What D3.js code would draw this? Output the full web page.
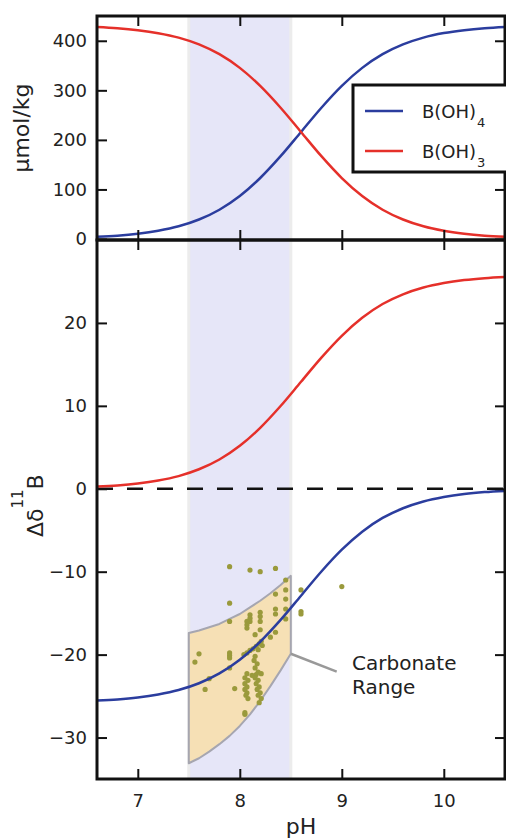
<!DOCTYPE html>
<html>
<head>
<meta charset="utf-8">
<script src="https://cdn.jsdelivr.net/npm/d3@7"></script>
<style>
  body { margin: 0; background: #fff; }
  svg { display: block; font-family: "DejaVu Sans", sans-serif; }
</style>
</head>
<body>
<svg id="chart" width="506" height="840"></svg>
<script>
// pH grid for the speciation curves
const pH = [6.6, 6.8, 7.0, 7.2, 7.4, 7.6, 7.8, 8.0, 8.2, 8.4, 8.6, 8.8, 9.0, 9.2, 9.4, 9.6, 9.8, 10.0, 10.2, 10.4, 10.6];
// umol/kg
const borate = [4.3, 6.7, 10.6, 16.6, 25.6, 39.3, 59.1, 86.7, 123.1, 167.1, 216.0, 264.9, 309.0, 345.3, 373.0, 392.7, 406.4, 415.5, 421.4, 425.3, 427.7];
const boricAcid = [427.7, 425.3, 421.4, 415.4, 406.4, 392.7, 372.9, 345.3, 308.9, 264.9, 216.0, 167.1, 123.0, 86.7, 59.0, 39.3, 25.6, 16.5, 10.6, 6.7, 4.3];
// delta 11B of each species
const d11Boric = [0.26, 0.40, 0.63, 0.99, 1.53, 2.35, 3.53, 5.18, 7.35, 9.98, 12.9, 15.82, 18.45, 20.62, 22.28, 23.45, 24.27, 24.81, 25.17, 25.40, 25.54];
const d11Borate = [-25.54, -25.40, -25.17, -24.81, -24.27, -23.45, -22.27, -20.62, -18.45, -15.82, -12.9, -9.98, -7.35, -5.18, -3.52, -2.35, -1.53, -0.99, -0.63, -0.40, -0.26];

// shaded pH band
const bandPH = [7.5, 8.5];

// carbonate range envelope
const carbPH = [7.5, 7.6, 7.7, 7.8, 7.9, 8.0, 8.1, 8.2, 8.3, 8.4, 8.5];
const carbUpper = [-17.4, -17.1, -16.7, -16.3, -15.7, -15.1, -14.3, -13.5, -12.6, -11.6, -10.5];
const carbLower = [-33.1, -32.5, -31.7, -30.8, -29.8, -28.6, -27.2, -25.6, -23.8, -21.9, -19.9];

// carbonate samples [pH, delta 11B]
const samples = [
  [7.90, -9.4], [8.10, -9.8], [8.20, -10.0], [8.35, -9.6], [8.45, -11.0], [9.00, -11.8],
  [8.60, -12.2], [8.35, -12.7], [8.45, -12.2], [8.45, -13.3], [7.90, -13.8], [8.35, -14.5],
  [8.45, -14.5], [8.35, -15.1], [8.45, -15.7], [8.60, -14.8], [8.60, -15.1], [8.10, -15.2],
  [8.10, -15.6], [8.10, -16.0], [8.20, -14.9], [8.20, -15.4], [8.20, -16.0], [8.07, -16.0],
  [8.07, -16.4], [8.07, -16.8], [7.90, -16.0], [8.20, -17.0], [8.35, -17.3], [8.30, -17.9],
  [8.15, -17.6], [8.21, -18.4], [8.19, -18.7], [8.22, -18.9], [8.16, -19.0], [8.13, -19.3],
  [8.10, -19.5], [8.07, -19.8], [8.04, -20.0], [8.18, -19.4], [8.15, -20.2], [8.14, -20.7],
  [8.17, -21.1], [8.15, -21.6], [7.90, -19.8], [7.90, -20.1], [7.90, -20.4], [7.90, -21.6],
  [7.60, -19.9], [7.56, -20.9], [7.70, -22.9], [7.66, -24.2], [7.95, -24.1], [8.07, -22.3],
  [8.05, -22.8], [8.08, -23.1], [8.05, -23.5], [8.07, -23.9], [8.05, -24.2], [8.07, -24.6],
  [8.06, -24.9], [8.08, -25.3], [8.05, -27.0], [8.05, -27.2], [8.18, -22.1], [8.16, -22.4],
  [8.21, -22.3], [8.15, -22.8], [8.18, -23.1], [8.16, -23.5], [8.19, -23.9], [8.17, -24.2],
  [8.20, -24.6], [8.18, -24.9], [8.21, -25.3], [8.19, -25.8], [8.12, -22.5]
];

const xTicks = [7, 8, 9, 10];
const topTicks = [0, 100, 200, 300, 400];
const botTicks = [-30, -20, -10, 0, 10, 20];
const annoPoint = [8.5, -19.9];
const annoEnd = [8.95, -22.05];

const svg = d3.select("#chart");
const left = 97, right = 505, top0 = 16, mid = 240, bottom = 779;
const blue = "#2b3d9e", red = "#e5302a";

const x = d3.scaleLinear().domain([6.6, 10.6]).range([left, right]);
const yTop = d3.scaleLinear().domain([0, 450]).range([239, top0]);
const yBot = d3.scaleLinear().domain([-35, 30]).range([bottom, mid]);

const defs = svg.append("defs");
defs.append("clipPath").attr("id", "clipTop").append("rect")
  .attr("x", left).attr("y", top0).attr("width", right - left).attr("height", mid - top0);
defs.append("clipPath").attr("id", "clipBot").append("rect")
  .attr("x", left).attr("y", mid).attr("width", right - left).attr("height", bottom - mid);

function band(g, y0, y1) {
  g.append("rect")
    .attr("x", x(bandPH[0])).attr("y", y0)
    .attr("width", x(bandPH[1]) - x(bandPH[0])).attr("height", y1 - y0)
    .style("fill", "#e6e6f8");
  bandPH.forEach(p => {
    g.append("line")
      .attr("x1", x(p)).attr("x2", x(p)).attr("y1", y0).attr("y2", y1)
      .style("stroke", "#ececec").style("stroke-width", 3);
  });
}

// top panel
const gTop = svg.append("g").attr("clip-path", "url(#clipTop)");
band(gTop, top0, mid);

const topLine = d3.line()
  .x((d, i) => x(pH[i]))
  .y(d => yTop(d))
  .curve(d3.curveMonotoneX);

gTop.append("path").datum(borate).attr("d", topLine)
  .style("fill", "none").style("stroke", blue).style("stroke-width", 2.5);
gTop.append("path").datum(boricAcid).attr("d", topLine)
  .style("fill", "none").style("stroke", red).style("stroke-width", 2.5);

// bottom panel
const gBot = svg.append("g").attr("clip-path", "url(#clipBot)");
band(gBot, mid, bottom);

const envelope = carbPH.map((p, i) => [p, carbUpper[i]])
  .concat(carbPH.map((p, i) => [p, carbLower[i]]).reverse());
gBot.append("path")
  .attr("d", d3.line().x(d => x(d[0])).y(d => yBot(d[1])).curve(d3.curveLinearClosed)(envelope))
  .style("fill", "#f6e0b5")
  .style("stroke", "#a6a6b0")
  .style("stroke-width", 2)
  .style("stroke-linejoin", "round");

gBot.selectAll("circle.sample")
  .data(samples)
  .enter()
  .append("circle")
  .attr("class", "sample")
  .attr("cx", d => x(d[0]))
  .attr("cy", d => yBot(d[1]))
  .attr("r", 2.6)
  .style("fill", "#9a9a3c");

gBot.append("line")
  .attr("x1", left).attr("x2", right)
  .attr("y1", yBot(0)).attr("y2", yBot(0))
  .style("stroke", "#111").style("stroke-width", 2.5)
  .style("stroke-dasharray", "16,14");

const botLine = d3.line()
  .x((d, i) => x(pH[i]))
  .y(d => yBot(d))
  .curve(d3.curveMonotoneX);

gBot.append("path").datum(d11Boric).attr("d", botLine)
  .style("fill", "none").style("stroke", red).style("stroke-width", 2.5);
gBot.append("path").datum(d11Borate).attr("d", botLine)
  .style("fill", "none").style("stroke", blue).style("stroke-width", 2.5);

// annotation
svg.append("line")
  .attr("x1", x(annoPoint[0])).attr("y1", yBot(annoPoint[1]))
  .attr("x2", x(annoEnd[0])).attr("y2", yBot(annoEnd[1]))
  .style("stroke", "#999").style("stroke-width", 2.5);
const anno = svg.append("text")
  .attr("x", 352).attr("y", 670)
  .style("font-size", "20px").style("fill", "#222");
anno.append("tspan").attr("x", 352).text("Carbonate");
anno.append("tspan").attr("x", 352).attr("dy", 24).text("Range");

// axes
function styleAxis(g) {
  g.select(".domain").remove();
  g.selectAll(".tick line").style("stroke", "#111").style("stroke-width", 2);
  g.selectAll(".tick text").style("font-size", "18px").style("fill", "#222")
    .style("font-family", "DejaVu Sans, sans-serif");
}

function axes(yScale, yTicks, y0, y1, xLabels) {
  svg.append("g").attr("transform", "translate(" + left + ",0)")
    .call(d3.axisLeft(yScale).tickValues(yTicks).tickSizeInner(-10).tickSizeOuter(0).tickPadding(10))
    .call(styleAxis);
  svg.append("g").attr("transform", "translate(" + right + ",0)")
    .call(d3.axisRight(yScale).tickValues(yTicks).tickSizeInner(-10).tickSizeOuter(0).tickFormat(""))
    .call(styleAxis);
  svg.append("g").attr("transform", "translate(0," + y0 + ")")
    .call(d3.axisTop(x).tickValues(xTicks).tickSizeInner(-10).tickSizeOuter(0).tickFormat(""))
    .call(styleAxis);
  const xb = d3.axisBottom(x).tickValues(xTicks).tickSizeInner(-10).tickSizeOuter(0).tickPadding(15)
    .tickFormat(xLabels ? d3.format("d") : "");
  svg.append("g").attr("transform", "translate(0," + y1 + ")")
    .call(xb)
    .call(styleAxis);
}

axes(yTop, topTicks, top0, mid, false);
axes(yBot, botTicks, mid, bottom, true);

// spines
[[top0, mid], [mid, bottom]].forEach(r => {
  svg.append("rect")
    .attr("x", left).attr("y", r[0])
    .attr("width", right - left).attr("height", r[1] - r[0])
    .style("fill", "none").style("stroke", "#111").style("stroke-width", 3);
});

// axis labels
svg.append("text")
  .attr("x", (left + right) / 2).attr("y", 834)
  .attr("text-anchor", "middle")
  .style("font-size", "22px").style("fill", "#222")
  .text("pH");

svg.append("text")
  .attr("transform", "translate(29," + (top0 + mid) / 2 + ")rotate(-90)")
  .attr("text-anchor", "middle")
  .style("font-size", "22px").style("fill", "#222")
  .text("µmol/kg");

const yl = svg.append("text")
  .attr("transform", "translate(43,537)rotate(-90)")
  .style("font-size", "22px").style("fill", "#222");
yl.append("tspan").text("Δδ");
yl.append("tspan").attr("dy", -20).style("font-size", "15px").text("11");
yl.append("tspan").attr("dy", 20).text("B");

// legend
const leg = svg.append("g");
leg.append("rect")
  .attr("x", 353).attr("y", 85).attr("width", 170).attr("height", 87)
  .style("fill", "#fff").style("stroke", "#111").style("stroke-width", 3);
const legendItems = [
  { color: blue, sub: "4", y: 111 },
  { color: red, sub: "3", y: 151 }
];
legendItems.forEach(d => {
  leg.append("line")
    .attr("x1", 365).attr("x2", 403).attr("y1", d.y).attr("y2", d.y)
    .style("stroke", d.color).style("stroke-width", 2.5);
  const t = leg.append("text")
    .attr("x", 422).attr("y", d.y + 7)
    .style("font-size", "18px").style("fill", "#222");
  t.append("tspan").text("B(OH)");
  t.append("tspan").attr("dx", 1).attr("dy", 9).style("font-size", "13px").text(d.sub);
});
</script>
</body>
</html>
